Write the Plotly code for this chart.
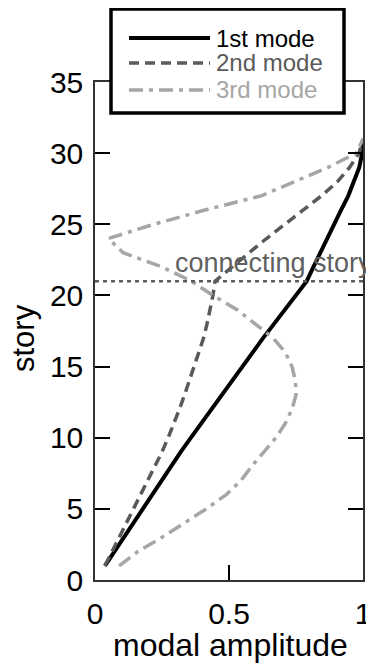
import plotly.graph_objects as go

# ---- data ----
stories = list(range(1, 32))
mode1 = [0.037, 0.072, 0.107, 0.143, 0.178, 0.213, 0.248, 0.284, 0.320, 0.358,
         0.396, 0.434, 0.472, 0.510, 0.548, 0.587, 0.627, 0.668, 0.709, 0.750,
         0.790, 0.815, 0.840, 0.865, 0.890, 0.918, 0.945, 0.967, 0.986, 0.997, 1.000]
mode2 = [0.037, 0.064, 0.091, 0.118, 0.145, 0.172, 0.199, 0.225, 0.250, 0.273,
         0.295, 0.315, 0.334, 0.352, 0.370, 0.388, 0.405, 0.418, 0.430, 0.440,
         0.448, 0.510, 0.575, 0.640, 0.710, 0.780, 0.845, 0.905, 0.950, 0.985, 1.000]
mode3 = [0.090, 0.160, 0.250, 0.335, 0.415, 0.490, 0.545, 0.585, 0.630, 0.675,
         0.710, 0.735, 0.750, 0.748, 0.735, 0.710, 0.665, 0.600, 0.530, 0.440,
         0.360, 0.250, 0.105, 0.050, 0.220, 0.410, 0.620, 0.745, 0.870, 0.975, 1.000]
series_names = ["1st mode", "2nd mode", "3rd mode"]
series_values = [mode1, mode2, mode3]
series_colors = ["#000000", "#595959", "#a6a6a6"]
series_widths = [4, 3.5, 3.5]
series_dash = ["solid", "10px,6px", "14px,6px,4px,6px"]

connecting_story = 21
connecting_label = "connecting story"
x_tickvals = [0, 0.5, 1]
x_ticktext = ["0", "0.5", "1"]
y_tickvals = [0, 5, 10, 15, 20, 25, 30, 35]
x_title = "modal amplitude"
y_title = "story"

FONT = "Arial, Liberation Sans, sans-serif"

fig = go.Figure()
for name, vals, col, w, d in zip(series_names, series_values, series_colors,
                                 series_widths, series_dash):
    fig.add_trace(go.Scatter(x=vals, y=stories, mode="lines", name=name,
                             line=dict(color=col, width=w, dash=d),
                             showlegend=False))

# window pixel -> paper helpers (plot area in window: left 95, top 82, 268 x 498)
W, H, L, T = 268.0, 498.0, 95.0, 82.0
def px(xp):
    return (xp - L) / W
def py(yp):
    return (T + H - yp) / H

# connecting story line
fig.add_shape(type="line", xref="paper", yref="y", x0=0, x1=1,
              y0=connecting_story, y1=connecting_story,
              line=dict(color="#595959", width=2.5, dash="4px,4px"))
fig.add_annotation(x=px(173), y=py(263), xref="paper", yref="paper",
                   text=connecting_label, showarrow=False, xanchor="left",
                   yanchor="middle",
                   font=dict(family=FONT, size=27, color="#606060"))

# custom legend
fig.add_shape(type="rect", xref="paper", yref="paper",
              x0=px(111), x1=px(344), y0=py(113), y1=py(9),
              line=dict(color="black", width=3.5), fillcolor="white", layer="above")
row_y = [38, 63, 90]
for name, col, w, d, ry in zip(series_names, series_colors, series_widths,
                               series_dash, row_y):
    fig.add_shape(type="line", xref="paper", yref="paper",
                  x0=px(129), x1=px(210), y0=py(ry), y1=py(ry),
                  line=dict(color=col, width=w, dash=d), layer="above")
    fig.add_annotation(x=px(214), y=py(ry), xref="paper", yref="paper",
                       text=name, showarrow=False, xanchor="left", yanchor="middle",
                       height=25, valign="middle",
                       font=dict(family=FONT, size=24, color=col))

# axis titles
fig.add_annotation(x=px(230), y=py(645), xref="paper", yref="paper",
                   text=x_title, showarrow=False, xanchor="center", yanchor="middle",
                   font=dict(family=FONT, size=32, color="black"))
fig.add_annotation(x=px(23), y=py(338), xref="paper", yref="paper",
                   text=y_title, showarrow=False, xanchor="center", yanchor="middle",
                   textangle=-90,
                   font=dict(family=FONT, size=31, color="black"))

axis_common = dict(showline=True, linecolor="#333333", linewidth=1.5,
                   mirror="ticks", ticks="inside", ticklen=15, tickwidth=1.5,
                   tickcolor="#000000", showgrid=False, zeroline=False,
                   automargin=False,
                   tickfont=dict(family=FONT, size=30, color="black"))

fig.update_xaxes(range=[0, 1], tickvals=x_tickvals, ticktext=x_ticktext,
                 ticklabelstandoff=6, **axis_common)
fig.update_yaxes(range=[0, 35], tickvals=y_tickvals,
                 ticklabelstandoff=4, **axis_common)

# the page places the figure 8px in from the top-left (body margin)
fig.update_layout(width=366, height=663, autosize=False,
                  margin=dict(l=87, r=11, t=74, b=91),
                  plot_bgcolor="white", paper_bgcolor="white",
                  showlegend=False)

fig.write_html("out.html")
